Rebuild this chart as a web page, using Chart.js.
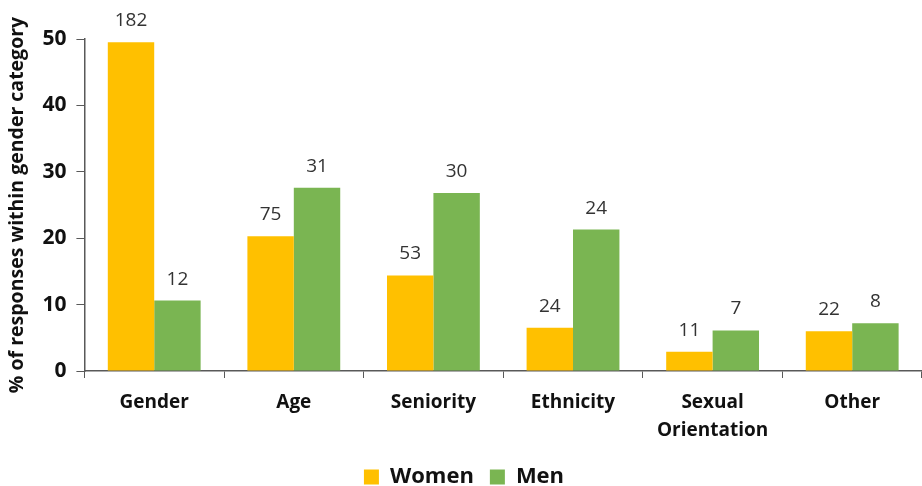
<!DOCTYPE html>
<html>
<head>
<meta charset="utf-8">
<script src="https://cdn.jsdelivr.net/npm/chart.js@4/dist/chart.umd.min.js"></script>
<style>
  html, body { margin: 0; padding: 0; background: #fff; }
  #wrap { width: 922px; height: 486px; }
</style>
</head>
<body>
<div id="wrap"><canvas id="chart"></canvas></div>
<script>
// categories and series (bar heights are % within gender, labels are response counts)
const categories = ["Gender", "Age", "Seniority", "Ethnicity", ["Sexual", "Orientation"], "Other"];
const womenPct = [49.5, 20.3, 14.4, 6.5, 2.9, 6.0];
const menPct = [10.6, 27.6, 26.8, 21.3, 6.1, 7.2];
const womenCount = [182, 75, 53, 24, 11, 22];
const menCount = [12, 31, 30, 24, 7, 8];
const yTicks = [0, 10, 20, 30, 40, 50];

const womenColor = "#FFC000";
const menColor = "#7AB552";
const axisColor = "#595959";
const font = "'Open Sans', sans-serif";

// draws the count above each bar
const countLabels = {
    id: "countLabels",
    afterDatasetsDraw(chart) {
        const ctx = chart.ctx;
        const counts = [womenCount, menCount];
        ctx.save();
        ctx.font = "19px " + font;
        ctx.fillStyle = "#333";
        ctx.textAlign = "center";
        ctx.textBaseline = "alphabetic";
        chart.data.datasets.forEach(function(ds, i) {
            chart.getDatasetMeta(i).data.forEach(function(bar, j) {
                ctx.fillText(String(counts[i][j]), bar.x, bar.y - 16);
            });
        });
        ctx.restore();
    }
};

new Chart(document.getElementById("chart"), {
    type: "bar",
    data: {
        labels: categories,
        datasets: [
            { label: "Women", data: womenPct, backgroundColor: womenColor },
            { label: "Men", data: menPct, backgroundColor: menColor }
        ]
    },
    options: {
        responsive: true,
        maintainAspectRatio: false,
        animation: false,
        // legend keeps 10px spare below itself, pull it down a bit
        layout: { padding: { top: 39, right: 0, left: 6, bottom: -12 } },
        datasets: {
            bar: { categoryPercentage: 0.665, barPercentage: 1.0 }
        },
        plugins: {
            legend: {
                position: "bottom",
                labels: {
                    boxWidth: 15,
                    boxHeight: 15,
                    padding: 16,
                    color: "#111",
                    font: { family: font, size: 22, weight: "bold", lineHeight: 1.0 }
                }
            },
            tooltip: { enabled: false }
        },
        scales: {
            x: {
                afterFit(scale) {
                    scale.height = 79;
                },
                grid: {
                    offset: true,
                    drawOnChartArea: false,
                    drawTicks: true,
                    tickLength: 7,
                    color: axisColor
                },
                border: { display: true, color: axisColor, width: 1.5 },
                ticks: {
                    color: "#111",
                    padding: 11,
                    maxRotation: 0,
                    font: { family: font, size: 19, weight: "bold", lineHeight: 1.45 }
                }
            },
            y: {
                min: 0,
                max: 50,
                afterBuildTicks(axis) {
                    axis.ticks = yTicks.map(function(v) { return { value: v }; });
                },
                grid: {
                    drawOnChartArea: false,
                    drawTicks: true,
                    tickLength: 8,
                    color: axisColor
                },
                border: { display: true, color: axisColor, width: 1.5 },
                ticks: {
                    color: "#111",
                    padding: 10,
                    font: { family: font, size: 21, weight: "bold" }
                },
                title: {
                    display: true,
                    text: "% of responses within gender category",
                    color: "#111",
                    padding: { top: 0, bottom: 3 },
                    font: { family: font, size: 19.5, weight: "bold" }
                }
            }
        }
    },
    plugins: [countLabels]
});
</script>
</body>
</html>
